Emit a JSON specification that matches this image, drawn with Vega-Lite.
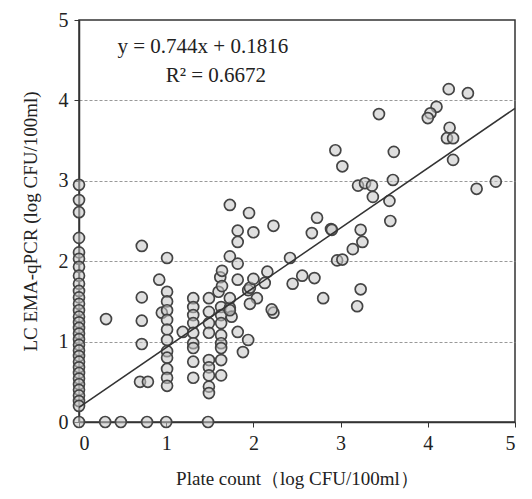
{
  "$schema": "https://vega.github.io/schema/vega-lite/v6.json",
  "width": 436,
  "height": 402,
  "autosize": "none",
  "padding": {"left": 79, "top": 20, "right": 17, "bottom": 77},
  "background": "white",
  "config": {
    "view": {"stroke": "#333", "strokeWidth": 1.5},
    "font": "Liberation Serif",
    "axis": {"labelFont": "Liberation Serif", "titleFont": "Liberation Serif", "labelColor": "#222", "titleColor": "#222", "domainColor": "#333", "tickColor": "#333", "domainWidth": 1.5, "labelFontSize": 20, "titleFontSize": 19, "titleFontWeight": "normal"}
  },
  "datasets": {
    "pts": [
      {"plate": 0, "qpcr": 2.95}, {"plate": 0, "qpcr": 2.76}, {"plate": 0, "qpcr": 2.61}, {"plate": 0, "qpcr": 2.29},
      {"plate": 0, "qpcr": 2.11}, {"plate": 0, "qpcr": 2.03}, {"plate": 0, "qpcr": 1.93}, {"plate": 0, "qpcr": 1.82},
      {"plate": 0, "qpcr": 1.72}, {"plate": 0, "qpcr": 1.63}, {"plate": 0, "qpcr": 1.55}, {"plate": 0, "qpcr": 1.47},
      {"plate": 0, "qpcr": 1.39}, {"plate": 0, "qpcr": 1.31}, {"plate": 0, "qpcr": 1.24}, {"plate": 0, "qpcr": 1.17},
      {"plate": 0, "qpcr": 1.1}, {"plate": 0, "qpcr": 1.03}, {"plate": 0, "qpcr": 0.96}, {"plate": 0, "qpcr": 0.89},
      {"plate": 0, "qpcr": 0.82}, {"plate": 0, "qpcr": 0.75}, {"plate": 0, "qpcr": 0.68}, {"plate": 0, "qpcr": 0.61},
      {"plate": 0, "qpcr": 0.54}, {"plate": 0, "qpcr": 0.47}, {"plate": 0, "qpcr": 0.4}, {"plate": 0, "qpcr": 0.33},
      {"plate": 0, "qpcr": 0.26}, {"plate": 0, "qpcr": 0.2}, {"plate": 0, "qpcr": 0},
      {"plate": 0.3, "qpcr": 0}, {"plate": 0.48, "qpcr": 0}, {"plate": 0.78, "qpcr": 0}, {"plate": 1.0, "qpcr": 0}, {"plate": 1.48, "qpcr": 0},
      {"plate": 0.72, "qpcr": 2.19}, {"plate": 1.01, "qpcr": 2.04}, {"plate": 0.92, "qpcr": 1.77}, {"plate": 0.72, "qpcr": 1.55},
      {"plate": 0.31, "qpcr": 1.28}, {"plate": 0.72, "qpcr": 1.26}, {"plate": 0.72, "qpcr": 0.97}, {"plate": 0.7, "qpcr": 0.5},
      {"plate": 0.79, "qpcr": 0.5}, {"plate": 0.95, "qpcr": 1.36}, {"plate": 1.19, "qpcr": 1.12},
      {"plate": 1.01, "qpcr": 1.62}, {"plate": 1.01, "qpcr": 1.5}, {"plate": 1.01, "qpcr": 1.39}, {"plate": 1.01, "qpcr": 1.27},
      {"plate": 1.01, "qpcr": 1.15}, {"plate": 1.01, "qpcr": 1.02}, {"plate": 1.01, "qpcr": 0.88}, {"plate": 1.01, "qpcr": 0.8},
      {"plate": 1.01, "qpcr": 0.66}, {"plate": 1.01, "qpcr": 0.55}, {"plate": 1.01, "qpcr": 0.45},
      {"plate": 1.31, "qpcr": 1.54}, {"plate": 1.31, "qpcr": 1.43}, {"plate": 1.31, "qpcr": 1.33}, {"plate": 1.31, "qpcr": 1.23},
      {"plate": 1.31, "qpcr": 1.11}, {"plate": 1.31, "qpcr": 0.98}, {"plate": 1.31, "qpcr": 0.92}, {"plate": 1.31, "qpcr": 0.75},
      {"plate": 1.31, "qpcr": 0.55},
      {"plate": 1.49, "qpcr": 1.54}, {"plate": 1.49, "qpcr": 1.37}, {"plate": 1.49, "qpcr": 1.23}, {"plate": 1.49, "qpcr": 1.11},
      {"plate": 1.49, "qpcr": 0.77}, {"plate": 1.49, "qpcr": 0.68}, {"plate": 1.49, "qpcr": 0.58}, {"plate": 1.49, "qpcr": 0.44},
      {"plate": 1.49, "qpcr": 0.36},
      {"plate": 1.63, "qpcr": 1.43}, {"plate": 1.63, "qpcr": 1.33}, {"plate": 1.63, "qpcr": 1.23}, {"plate": 1.63, "qpcr": 1.08},
      {"plate": 1.63, "qpcr": 0.98}, {"plate": 1.63, "qpcr": 0.92}, {"plate": 1.63, "qpcr": 0.77}, {"plate": 1.63, "qpcr": 0.58},
      {"plate": 1.62, "qpcr": 1.8}, {"plate": 1.6, "qpcr": 1.62},
      {"plate": 1.73, "qpcr": 1.42}, {"plate": 1.75, "qpcr": 1.31}, {"plate": 1.82, "qpcr": 1.12}, {"plate": 1.88, "qpcr": 0.87},
      {"plate": 1.94, "qpcr": 1.02}, {"plate": 1.73, "qpcr": 1.54}, {"plate": 1.73, "qpcr": 1.39},
      {"plate": 1.94, "qpcr": 1.64}, {"plate": 2.04, "qpcr": 1.54}, {"plate": 1.96, "qpcr": 1.47}, {"plate": 1.96, "qpcr": 1.67},
      {"plate": 1.73, "qpcr": 2.7}, {"plate": 1.95, "qpcr": 2.6}, {"plate": 2.23, "qpcr": 2.44}, {"plate": 1.82, "qpcr": 2.38},
      {"plate": 2.0, "qpcr": 2.36}, {"plate": 1.82, "qpcr": 2.24}, {"plate": 2.73, "qpcr": 2.54}, {"plate": 2.67, "qpcr": 2.35},
      {"plate": 2.89, "qpcr": 2.4}, {"plate": 1.73, "qpcr": 2.06}, {"plate": 1.82, "qpcr": 1.97}, {"plate": 2.42, "qpcr": 2.04},
      {"plate": 1.64, "qpcr": 1.88}, {"plate": 2.16, "qpcr": 1.87}, {"plate": 1.64, "qpcr": 1.69}, {"plate": 1.82, "qpcr": 1.77},
      {"plate": 2.0, "qpcr": 1.78}, {"plate": 2.13, "qpcr": 1.73}, {"plate": 2.45, "qpcr": 1.72}, {"plate": 2.56, "qpcr": 1.82},
      {"plate": 2.7, "qpcr": 1.79}, {"plate": 2.8, "qpcr": 1.54}, {"plate": 2.23, "qpcr": 1.36}, {"plate": 2.21, "qpcr": 1.4},
      {"plate": 4.24, "qpcr": 4.14}, {"plate": 4.46, "qpcr": 4.09}, {"plate": 3.44, "qpcr": 3.83}, {"plate": 4.1, "qpcr": 3.92},
      {"plate": 4.03, "qpcr": 3.84}, {"plate": 4.0, "qpcr": 3.78}, {"plate": 4.25, "qpcr": 3.66}, {"plate": 4.22, "qpcr": 3.53},
      {"plate": 4.29, "qpcr": 3.53}, {"plate": 4.29, "qpcr": 3.26}, {"plate": 2.94, "qpcr": 3.38}, {"plate": 3.02, "qpcr": 3.18},
      {"plate": 3.61, "qpcr": 3.36}, {"plate": 3.6, "qpcr": 3.01}, {"plate": 3.2, "qpcr": 2.94}, {"plate": 3.28, "qpcr": 2.97},
      {"plate": 3.36, "qpcr": 2.94}, {"plate": 3.37, "qpcr": 2.8}, {"plate": 3.56, "qpcr": 2.75}, {"plate": 3.57, "qpcr": 2.5},
      {"plate": 4.56, "qpcr": 2.9}, {"plate": 4.78, "qpcr": 2.99}, {"plate": 2.9, "qpcr": 2.39}, {"plate": 3.23, "qpcr": 2.39},
      {"plate": 3.25, "qpcr": 2.24}, {"plate": 3.14, "qpcr": 2.15}, {"plate": 2.96, "qpcr": 2.01}, {"plate": 3.02, "qpcr": 2.02},
      {"plate": 3.23, "qpcr": 1.65}, {"plate": 3.19, "qpcr": 1.44}
    ],
    "fit": [
      {"plate": 0, "qpcr": 0.1816},
      {"plate": 5, "qpcr": 3.9016}
    ]
  },
  "layer": [
    {
      "data": {"name": "pts"},
      "mark": {"type": "point", "shape": "circle", "filled": true, "size": 120, "fill": "#c4c4c4", "fillOpacity": 0.55, "stroke": "#444", "strokeWidth": 1.7},
      "encoding": {
        "x": {"field": "plate", "type": "quantitative", "scale": {"domain": [0, 5], "nice": false},
          "axis": {"title": "Plate count（log CFU/100ml）", "values": [0, 1, 2, 3, 4, 5], "format": "d", "grid": false, "tickSize": 5, "labelPadding": 6, "titlePadding": 16}},
        "y": {"field": "qpcr", "type": "quantitative", "scale": {"domain": [0, 5], "nice": false},
          "axis": {"title": "LC EMA-qPCR (log CFU/100ml)", "values": [0, 1, 2, 3, 4, 5], "format": "d", "tickSize": 5, "labelPadding": 6, "titlePadding": 18,
            "grid": true, "gridDash": [3, 2], "gridColor": "#999", "gridWidth": 1,
            "gridOpacity": {"condition": {"test": "datum.value == 0 || datum.value == 5", "value": 0}, "value": 1}}}
      }
    },
    {
      "data": {"name": "fit"},
      "mark": {"type": "line", "color": "#333", "strokeWidth": 1.5},
      "encoding": {
        "x": {"field": "plate", "type": "quantitative"},
        "y": {"field": "qpcr", "type": "quantitative"}
      }
    },
    {
      "data": {"values": [{"label": "y = 0.744x + 0.1816"}]},
      "mark": {"type": "text", "font": "Liberation Serif", "fontSize": 21, "color": "#222", "align": "center", "baseline": "middle"},
      "encoding": {
        "text": {"field": "label"},
        "x": {"datum": 1.42},
        "y": {"datum": 4.66}
      }
    },
    {
      "data": {"values": [{"label": "R² = 0.6672"}]},
      "mark": {"type": "text", "font": "Liberation Serif", "fontSize": 21, "color": "#222", "align": "center", "baseline": "middle"},
      "encoding": {
        "text": {"field": "label"},
        "x": {"datum": 1.57},
        "y": {"datum": 4.3}
      }
    }
  ]
}
